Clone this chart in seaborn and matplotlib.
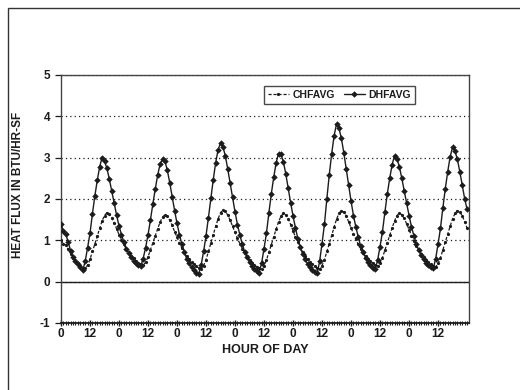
import numpy as np
import pandas as pd
import matplotlib
matplotlib.use("Agg")
import matplotlib.pyplot as plt
import seaborn as sns
from matplotlib.patches import Rectangle
from matplotlib.ticker import MultipleLocator

# Datos horarios (hora 0 a 168)
hours = list(range(169))

dhfavg = [
    # dia 1
    1.40, 1.22, 1.15, 0.95, 0.75, 0.60, 0.50, 0.42, 0.35, 0.27, 0.49, 0.82,
    1.17, 1.64, 2.07, 2.45, 2.78, 3.00, 2.92, 2.74, 2.48, 2.19, 1.90, 1.61,
    # dia 2
    1.35, 1.14, 0.96, 0.80, 0.69, 0.59, 0.51, 0.46, 0.41, 0.38, 0.56, 0.82,
    1.13, 1.49, 1.88, 2.24, 2.58, 2.84, 2.97, 2.92, 2.69, 2.39, 2.05, 1.72,
    # dia 3
    1.41, 1.14, 0.91, 0.72, 0.55, 0.44, 0.36, 0.27, 0.22, 0.19, 0.41, 0.73,
    1.11, 1.55, 2.02, 2.47, 2.88, 3.19, 3.35, 3.26, 3.04, 2.72, 2.38, 2.04,
    # dia 4
    1.69, 1.38, 1.13, 0.91, 0.72, 0.60, 0.47, 0.38, 0.31, 0.25, 0.22, 0.45,
    0.80, 1.17, 1.66, 2.12, 2.52, 2.87, 3.10, 3.08, 2.90, 2.61, 2.26, 1.91,
    # dia 5
    1.59, 1.30, 1.04, 0.84, 0.66, 0.55, 0.43, 0.35, 0.29, 0.23, 0.20, 0.49,
    0.92, 1.39, 2.01, 2.59, 3.10, 3.53, 3.82, 3.71, 3.47, 3.12, 2.73, 2.34,
    # dia 6
    1.95, 1.60, 1.32, 1.07, 0.86, 0.72, 0.58, 0.48, 0.41, 0.34, 0.30, 0.52,
    0.85, 1.21, 1.68, 2.12, 2.50, 2.83, 3.05, 2.97, 2.78, 2.50, 2.20, 1.90,
    # dia 7
    1.60, 1.33, 1.11, 0.92, 0.76, 0.65, 0.54, 0.46, 0.40, 0.35, 0.32, 0.55,
    0.91, 1.29, 1.79, 2.25, 2.66, 3.02, 3.25, 3.16, 2.96, 2.66, 2.34, 2.01,
    1.75,
]

chfavg = [
    # dia 1
    1.00, 0.92, 0.88, 0.78, 0.68, 0.58, 0.50, 0.44, 0.38, 0.34, 0.32, 0.40,
    0.54, 0.73, 0.91, 1.10, 1.29, 1.47, 1.60, 1.67, 1.63, 1.54, 1.42, 1.28,
    # dia 2
    1.14, 1.01, 0.90, 0.79, 0.70, 0.63, 0.57, 0.51, 0.46, 0.43, 0.40, 0.47,
    0.60, 0.77, 0.94, 1.11, 1.28, 1.44, 1.56, 1.62, 1.58, 1.49, 1.36, 1.21,
    # dia 3
    1.07, 0.93, 0.81, 0.71, 0.62, 0.54, 0.47, 0.42, 0.37, 0.33, 0.30, 0.39,
    0.53, 0.73, 0.93, 1.14, 1.34, 1.52, 1.67, 1.74, 1.70, 1.61, 1.48, 1.34,
    # dia 4
    1.19, 1.05, 0.92, 0.80, 0.70, 0.62, 0.53, 0.46, 0.40, 0.36, 0.33, 0.30,
    0.38, 0.52, 0.71, 0.89, 1.08, 1.27, 1.45, 1.58, 1.65, 1.61, 1.52, 1.38,
    # dia 5
    1.23, 1.08, 0.95, 0.83, 0.72, 0.62, 0.54, 0.48, 0.42, 0.37, 0.33, 0.30,
    0.39, 0.53, 0.73, 0.92, 1.12, 1.32, 1.51, 1.65, 1.72, 1.68, 1.59, 1.45,
    # dia 6
    1.30, 1.16, 1.02, 0.90, 0.80, 0.70, 0.62, 0.55, 0.50, 0.45, 0.41, 0.38,
    0.46, 0.58, 0.76, 0.94, 1.12, 1.30, 1.47, 1.60, 1.66, 1.62, 1.53, 1.40,
    # dia 7
    1.26, 1.11, 0.98, 0.87, 0.76, 0.67, 0.59, 0.53, 0.48, 0.42, 0.39, 0.36,
    0.44, 0.58, 0.77, 0.96, 1.15, 1.34, 1.52, 1.65, 1.72, 1.68, 1.60, 1.45,
    1.30,
]

xtick_pos = list(range(0, 157, 12))
xtick_labels = ["0", "12"] * 7
ytick_pos = [-1, 0, 1, 2, 3, 4, 5]

df = pd.DataFrame({"hour": hours, "CHFAVG": chfavg, "DHFAVG": dhfavg})

sns.set_theme(style="white")
plt.rcParams["font.family"] = ["Liberation Sans", "DejaVu Sans"]
plt.rcParams["font.weight"] = "bold"
plt.rcParams["axes.unicode_minus"] = False

ink = "#1c1c1c"
fig = plt.figure(figsize=(5.2, 3.9), dpi=100)
ax = fig.add_axes([0.1173, 0.1718, 0.7846, 0.636])

# Lineas
sns.lineplot(data=df, x="hour", y="CHFAVG", ax=ax, color=ink, linewidth=0.9,
             linestyle=(0, (2.5, 1.5)), marker="o", markersize=2.3,
             markeredgewidth=0, label="CHFAVG", zorder=3)
sns.lineplot(data=df, x="hour", y="DHFAVG", ax=ax, color=ink, linewidth=1.0,
             marker="D", markersize=3.3, markeredgewidth=0,
             label="DHFAVG", zorder=4)

ax.set_xlim(0, 168.8)
ax.set_ylim(-1, 5)
ax.set_yticks(ytick_pos)
ax.set_xticks(xtick_pos)
ax.set_xticklabels(xtick_labels)
ax.xaxis.set_minor_locator(MultipleLocator(1))

ax.grid(axis="y", linestyle=(0, (1, 2.5)), color=ink, linewidth=0.9)
ax.grid(axis="x", visible=False)
ax.axhline(0, color=ink, linewidth=1.0, zorder=2)

for s in ax.spines.values():
    s.set_color("#444444")
    s.set_linewidth(1.0)
ax.spines["bottom"].set_color(ink)
ax.spines["bottom"].set_linewidth(1.3)

ax.tick_params(axis="y", which="major", direction="out", length=4, width=0.9,
               colors=ink, labelsize=8.5, pad=4, left=True)
ax.tick_params(axis="x", which="major", direction="inout", length=5, width=1.0,
               colors=ink, labelsize=8.5, pad=1, bottom=True)
ax.tick_params(axis="x", which="minor", direction="inout", length=3.5,
               width=0.8, colors=ink, bottom=True)

ax.set_xlabel("HOUR OF DAY", fontsize=9, fontweight="bold", color=ink)
ax.set_ylabel("HEAT FLUX IN BTU/HR-SF", fontsize=8.5, fontweight="bold", color=ink)
ax.xaxis.set_label_coords(0.5, -0.085)
ax.yaxis.set_label_coords(-0.09, 0.556)

leg = ax.legend(loc="upper right", bbox_to_anchor=(0.88, 0.975), ncol=2,
                fontsize=7.5, frameon=True, fancybox=False, handlelength=2.0,
                columnspacing=0.8, handletextpad=0.4, borderpad=0.35)
leg.get_frame().set_edgecolor(ink)
leg.get_frame().set_linewidth(1.0)
for t in leg.get_texts():
    t.set_color(ink)

# Marco exterior de la figura
fig.add_artist(Rectangle((0.0154, -0.05), 1.1, 1.0295, transform=fig.transFigure,
                         fill=False, edgecolor="#333333", linewidth=1.0))

fig.savefig("out.png", dpi=100, facecolor="white")
